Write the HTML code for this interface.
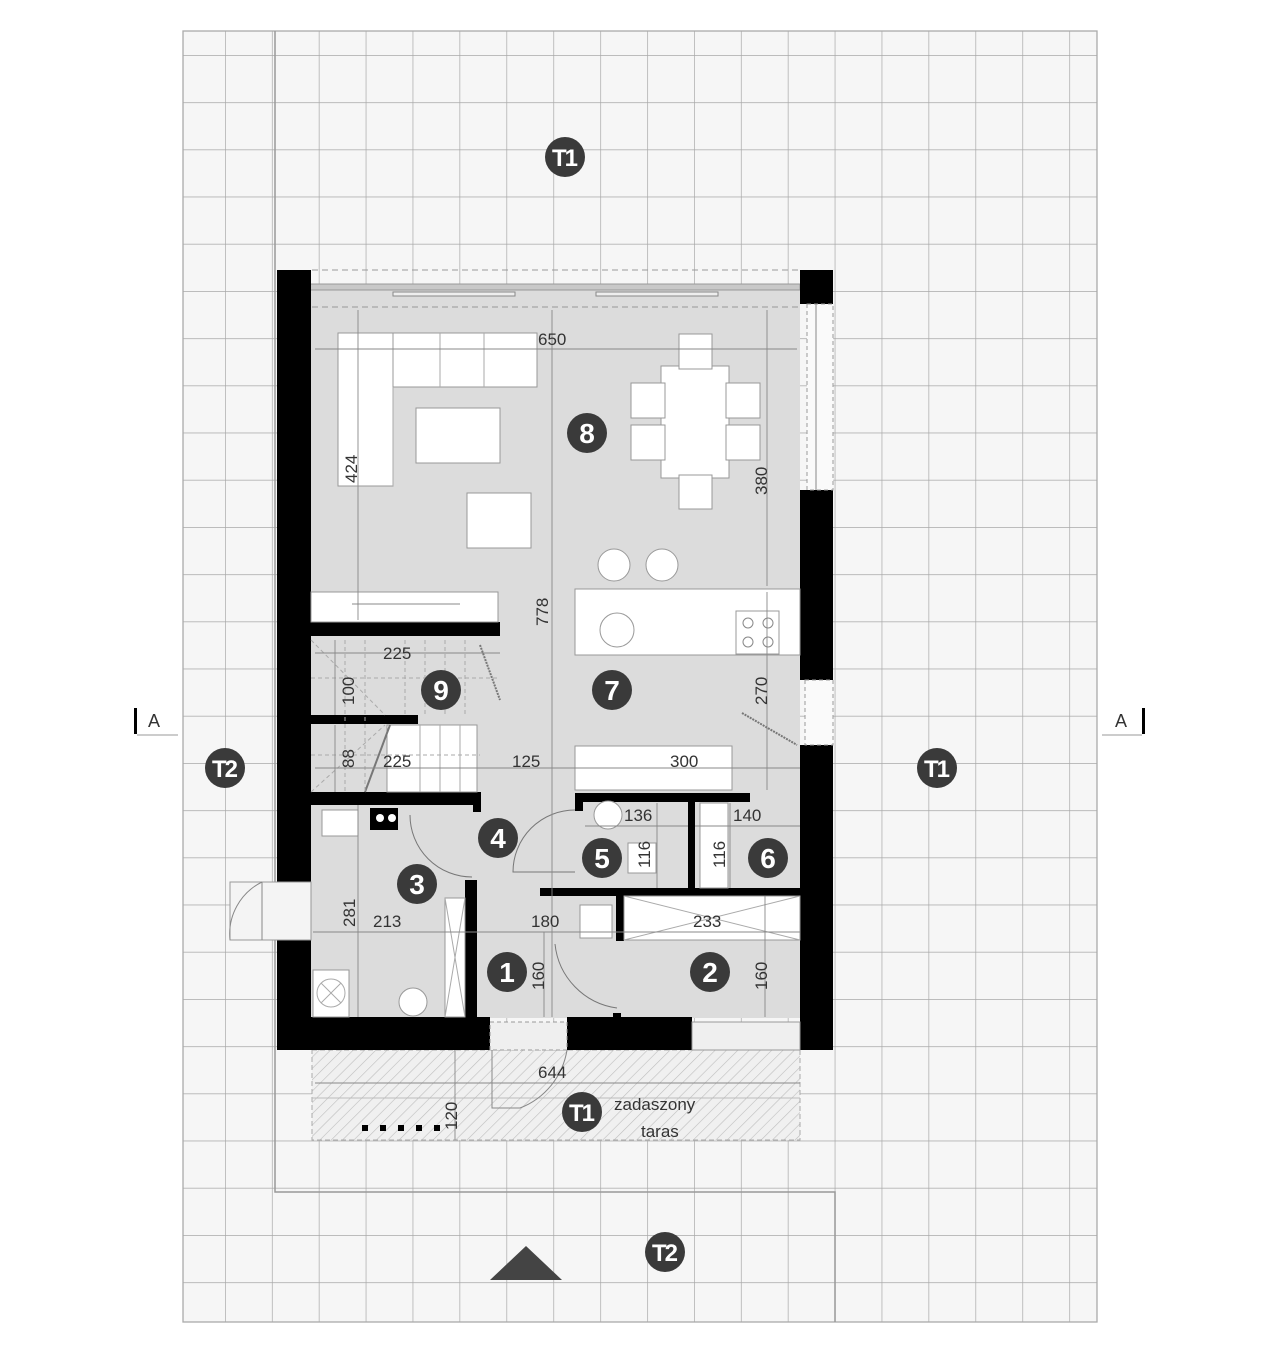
<!DOCTYPE html>
<html><head><meta charset="utf-8"><style>
html,body{margin:0;padding:0;background:#fff;}
svg{display:block;font-family:"Liberation Sans",sans-serif;}
</style></head><body>
<svg width="1280" height="1354" viewBox="0 0 1280 1354" xmlns="http://www.w3.org/2000/svg">
<defs>
<pattern id="grid" x="225" y="55" width="46.9" height="47.2" patternUnits="userSpaceOnUse">
<path d="M0 0V47.2M0 0H46.9" stroke="#a8a8a8" stroke-width="1.4" fill="none"/>
</pattern>
<pattern id="hatch" width="8" height="8" patternUnits="userSpaceOnUse" patternTransform="rotate(45)">
<line x1="0" y1="0" x2="0" y2="8" stroke="#bdbdbd" stroke-width="1.2"/>
</pattern>
</defs>
<rect x="183" y="31" width="914" height="1291" fill="#f6f6f6" stroke="#aaa" stroke-width="1.3"/>
<rect x="183" y="31" width="914" height="1291" fill="url(#grid)"/>
<polyline points="275,31 275,1192 835,1192 835,1322" fill="none" stroke="#999" stroke-width="1.5"/>
<!-- terrace -->
<rect x="312" y="1050" width="488" height="90" fill="#f0f0f0"/>
<rect x="312" y="1050" width="488" height="90" fill="url(#hatch)" stroke="#aaa" stroke-dasharray="5,3"/>
<line x1="312" y1="1098" x2="800" y2="1098" stroke="#bbb"/>
<g fill="#000"><rect x="362" y="1125" width="6" height="6"/><rect x="380" y="1125" width="6" height="6"/><rect x="398" y="1125" width="6" height="6"/><rect x="416" y="1125" width="6" height="6"/><rect x="434" y="1125" width="6" height="6"/></g>
<path d="M492 1050 V1108 H520 A75 75 0 0 0 567 1050" fill="none" stroke="#888"/>
<!-- interior floor -->
<rect x="307" y="288" width="493" height="730" fill="#dcdcdc"/>
<line x1="312" y1="270" x2="800" y2="270" stroke="#999" stroke-dasharray="6,4"/>
<line x1="312" y1="307" x2="800" y2="307" stroke="#999" stroke-dasharray="6,4"/>
<rect x="307" y="284" width="493" height="6" fill="#c8c8c8" stroke="#999"/>
<rect x="393" y="292" width="122" height="4" fill="#eee" stroke="#888"/>
<rect x="596" y="292" width="122" height="4" fill="#eee" stroke="#888"/>
<!-- walls -->
<g fill="#000">
<rect x="277" y="270" width="34" height="612"/>
<rect x="277" y="940" width="34" height="110"/>
<rect x="800" y="270" width="33" height="34"/>
<rect x="800" y="490" width="33" height="190"/>
<rect x="800" y="745" width="33" height="305"/>
<rect x="277" y="1017" width="213" height="33"/>
<rect x="567" y="1017" width="125" height="33"/>
<rect x="311" y="622" width="189" height="14"/>
<rect x="311" y="715" width="107" height="9"/>
<rect x="311" y="792" width="170" height="13"/>
<rect x="473" y="792" width="8" height="20"/>
<rect x="465" y="880" width="12" height="137"/>
<rect x="575" y="793" width="175" height="9"/>
<rect x="575" y="793" width="8" height="18"/>
<rect x="688" y="793" width="7" height="97"/>
<rect x="540" y="888" width="260" height="8"/>
<rect x="616" y="888" width="8" height="53"/>
<rect x="613" y="1013" width="8" height="6"/>
</g>
<!-- windows -->
<rect x="807" y="304" width="26" height="186" fill="#fafafa" stroke="#999" stroke-dasharray="4,3"/>
<line x1="816" y1="304" x2="816" y2="490" stroke="#888"/>
<rect x="805" y="680" width="28" height="65" fill="#fafafa" stroke="#999" stroke-dasharray="4,3"/>
<rect x="692" y="1022" width="108" height="28" fill="#efefef" stroke="#999"/>
<rect x="490" y="1022" width="77" height="28" fill="#efefef" stroke="#999" stroke-dasharray="4,3"/>
<rect x="230" y="882" width="81" height="58" fill="#f4f4f4" stroke="#999"/>
<path d="M262 882 V940 M262 882 A58 58 0 0 0 230 940" fill="none" stroke="#888"/>
<!-- furniture -->
<g fill="#fff" stroke="#999" stroke-width="1">
<rect x="338" y="333" width="199" height="54"/>
<rect x="338" y="333" width="55" height="153"/>
<rect x="416" y="408" width="84" height="55"/>
<rect x="467" y="493" width="64" height="55"/>
<rect x="661" y="366" width="68" height="112"/>
<rect x="679" y="334" width="33" height="35"/>
<rect x="679" y="475" width="33" height="34"/>
<rect x="631" y="383" width="34" height="35"/>
<rect x="631" y="425" width="34" height="35"/>
<rect x="726" y="383" width="34" height="35"/>
<rect x="726" y="425" width="34" height="35"/>
<circle cx="614" cy="565" r="16"/>
<circle cx="662" cy="565" r="16"/>
<rect x="311" y="592" width="187" height="30"/>
<rect x="575" y="589" width="225" height="66"/>
<rect x="736" y="611" width="43" height="43"/>
<circle cx="617" cy="630" r="17"/>
<rect x="575" y="746" width="157" height="44"/>
<rect x="387" y="725" width="90" height="67"/>
<rect x="322" y="810" width="36" height="26"/>
<rect x="445" y="898" width="20" height="119"/>
<rect x="313" y="970" width="36" height="47"/>
<circle cx="413" cy="1002" r="14"/>
<circle cx="608" cy="815" r="14"/>
<rect x="628" y="843" width="28" height="30"/>
<rect x="580" y="905" width="32" height="33"/>
<rect x="624" y="896" width="176" height="44"/>
<rect x="700" y="803" width="28" height="85"/>
</g>
<g stroke="#aaa" fill="none">
<line x1="393" y1="387" x2="393" y2="486"/><line x1="440" y1="333" x2="440" y2="387"/><line x1="484" y1="333" x2="484" y2="387"/>
<line x1="445" y1="898" x2="465" y2="1017"/><line x1="465" y1="898" x2="445" y2="1017"/>
<line x1="624" y1="896" x2="800" y2="940"/><line x1="800" y1="896" x2="624" y2="940"/>
<line x1="352" y1="604" x2="460" y2="604" stroke="#888"/>
<circle cx="331" cy="993" r="14"/><line x1="321" y1="983" x2="341" y2="1003"/><line x1="341" y1="983" x2="321" y2="1003"/>
</g>
<g fill="none" stroke="#888"><circle cx="748" cy="623" r="5"/><circle cx="768" cy="623" r="5"/><circle cx="748" cy="642" r="5"/><circle cx="768" cy="642" r="5"/></g>
<rect x="370" y="808" width="28" height="22" fill="#000"/><circle cx="380" cy="818" r="4" fill="#fff"/><circle cx="392" cy="818" r="4" fill="#fff"/>
<!-- door arcs -->
<g fill="none" stroke="#777">
<path d="M410 815 A62 62 0 0 0 472 877"/>
<path d="M575 810 A62 62 0 0 0 513 872 H575"/>
<path d="M555 944 A72 72 0 0 0 617 1008"/>
<line x1="742" y1="713" x2="797" y2="745" stroke-width="2" stroke-dasharray="2,1"/>
<line x1="480" y1="645" x2="500" y2="700" stroke-width="2" stroke-dasharray="2,1"/>
<line x1="390" y1="725" x2="365" y2="792" stroke-width="2"/>
</g>
<!-- stairs -->
<g stroke="#aaa" stroke-dasharray="4,3" fill="none">
<line x1="345" y1="640" x2="345" y2="792"/><line x1="365" y1="640" x2="365" y2="792"/><line x1="405" y1="640" x2="405" y2="715"/><line x1="425" y1="640" x2="425" y2="715"/><line x1="445" y1="640" x2="445" y2="715"/><line x1="465" y1="640" x2="465" y2="715"/>
<line x1="311" y1="678" x2="500" y2="678"/><line x1="311" y1="755" x2="480" y2="755"/>
<line x1="311" y1="640" x2="385" y2="715"/><line x1="311" y1="792" x2="385" y2="725"/>
</g>
<g stroke="#aaa" fill="none"><line x1="420" y1="725" x2="420" y2="792"/><line x1="440" y1="725" x2="440" y2="792"/><line x1="460" y1="725" x2="460" y2="792"/></g>
<!-- dimension lines -->
<g stroke="#888" stroke-width="0.9" fill="none">
<line x1="315" y1="349" x2="797" y2="349"/>
<line x1="358" y1="310" x2="358" y2="620"/>
<line x1="552" y1="310" x2="552" y2="1017"/>
<line x1="767" y1="310" x2="767" y2="586"/>
<line x1="767" y1="592" x2="767" y2="790"/>
<line x1="315" y1="653" x2="500" y2="653"/>
<line x1="335" y1="640" x2="335" y2="715"/>
<line x1="335" y1="725" x2="335" y2="792"/>
<line x1="315" y1="768" x2="800" y2="768"/>
<line x1="313" y1="932" x2="800" y2="932"/>
<line x1="358" y1="805" x2="358" y2="1017"/>
<line x1="544" y1="932" x2="544" y2="1017"/>
<line x1="765" y1="896" x2="765" y2="1017"/>
<line x1="585" y1="826" x2="688" y2="826"/><line x1="695" y1="826" x2="800" y2="826"/>
<line x1="657" y1="803" x2="657" y2="888"/><line x1="730" y1="803" x2="730" y2="888"/>
<line x1="315" y1="1083" x2="800" y2="1083"/>
<line x1="455" y1="1050" x2="455" y2="1140"/>
</g>
<!-- dimension text -->
<g fill="#333" font-size="17">
<text x="538" y="345">650</text>
<text x="383" y="659">225</text>
<text x="383" y="767">225</text>
<text x="512" y="767">125</text>
<text x="670" y="767">300</text>
<text x="373" y="927">213</text>
<text x="531" y="927">180</text>
<text x="693" y="927">233</text>
<text x="624" y="821">136</text>
<text x="733" y="821">140</text>
<text x="538" y="1078">644</text>
<text transform="translate(357,483) rotate(-90)">424</text>
<text transform="translate(548,626) rotate(-90)">778</text>
<text transform="translate(767,495) rotate(-90)">380</text>
<text transform="translate(767,705) rotate(-90)">270</text>
<text transform="translate(354,705) rotate(-90)">100</text>
<text transform="translate(354,768) rotate(-90)">88</text>
<text transform="translate(355,927) rotate(-90)">281</text>
<text transform="translate(544,990) rotate(-90)">160</text>
<text transform="translate(767,990) rotate(-90)">160</text>
<text transform="translate(650,868) rotate(-90)">116</text>
<text transform="translate(725,868) rotate(-90)">116</text>
<text transform="translate(457,1130) rotate(-90)">120</text>
<text x="614" y="1110">zadaszony</text>
<text x="641" y="1137">taras</text>
</g>
<!-- room markers -->
<g font-weight="bold" text-anchor="middle">
<g fill="#3a3a3a">
<circle cx="587" cy="433" r="20"/><circle cx="441" cy="690" r="20"/><circle cx="612" cy="690" r="20"/>
<circle cx="498" cy="838" r="20"/><circle cx="417" cy="884" r="20"/><circle cx="602" cy="858" r="20"/>
<circle cx="768" cy="858" r="20"/><circle cx="507" cy="972" r="20"/><circle cx="710" cy="972" r="20"/>
<circle cx="565" cy="157" r="20"/><circle cx="225" cy="768" r="20"/><circle cx="937" cy="768" r="20"/>
<circle cx="582" cy="1112" r="20"/><circle cx="665" cy="1252" r="20"/>
</g>
<g fill="#fff" font-size="28">
<text x="587" y="443">8</text><text x="441" y="700">9</text><text x="612" y="700">7</text>
<text x="498" y="848">4</text><text x="417" y="894">3</text><text x="602" y="868">5</text>
<text x="768" y="868">6</text><text x="507" y="982">1</text><text x="710" y="982">2</text>
</g>
<g fill="#fff" font-size="24" letter-spacing="-2">
<text x="564" y="166">T1</text><text x="224" y="777">T2</text><text x="936" y="777">T1</text>
<text x="581" y="1121">T1</text><text x="664" y="1261">T2</text>
</g>
</g>
<!-- section marks -->
<rect x="134" y="708" width="3" height="26" fill="#000"/>
<text x="148" y="727" font-size="18" fill="#333">A</text>
<line x1="137" y1="735" x2="178" y2="735" stroke="#999"/>
<rect x="1142" y="708" width="3" height="26" fill="#000"/>
<text x="1115" y="727" font-size="18" fill="#333">A</text>
<line x1="1102" y1="735" x2="1142" y2="735" stroke="#999"/>
<polygon points="490,1280 526,1246 562,1280" fill="#444"/>
</svg>
</body></html>
